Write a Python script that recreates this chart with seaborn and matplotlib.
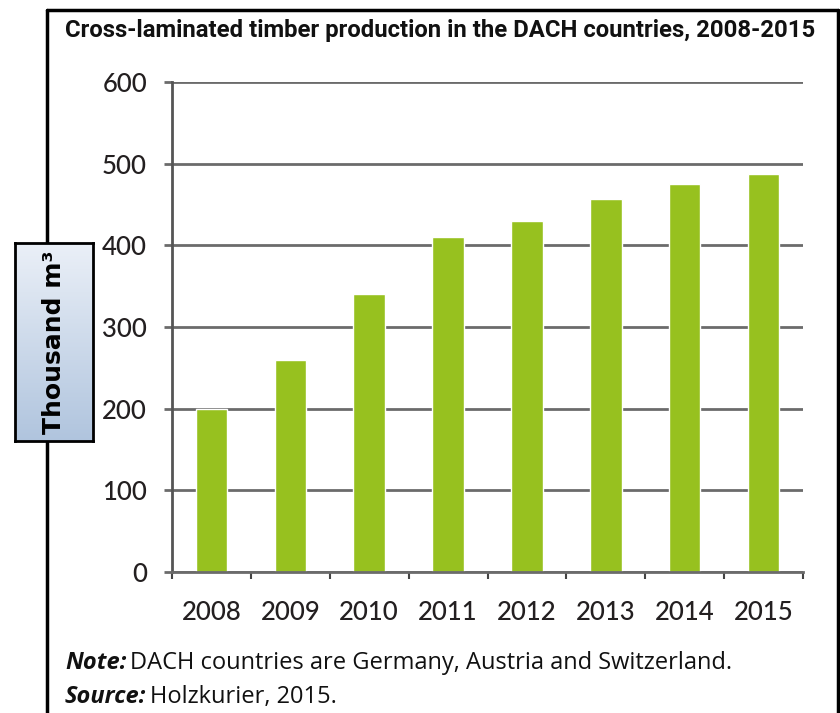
import numpy as np
import matplotlib
matplotlib.use('Agg')
import matplotlib.pyplot as plt
from matplotlib.lines import Line2D
from matplotlib.ticker import FixedLocator
import seaborn as sns

years = ['2008', '2009', '2010', '2011', '2012', '2013', '2014', '2015']
production = [200, 260, 340, 410, 430, 457, 475, 487]
y_ticks = [0, 100, 200, 300, 400, 500, 600]
title = 'Cross-laminated timber production in the DACH countries, 2008-2015'
note_head = 'Note:'
note_body = 'DACH countries are Germany, Austria and Switzerland.'
source_head = 'Source:'
source_body = 'Holzkurier, 2015.'
ylabel = 'Thousand m\u00b3'

sns.set_style('white')
plt.rcParams['font.family'] = ['Lato', 'DejaVu Sans']

W, H = 840, 713
def fx(px):
    return px / W
def fy(py):
    return 1 - py / H

fig = plt.figure(figsize=(8.4, 7.13), dpi=100)
renderer = fig.canvas.get_renderer()
ax = fig.add_axes([fx(172), fy(572), fx(803) - fx(172), fy(82) - fy(572)])

sns.barplot(x=years, y=production, color='#97c11f', width=0.4, saturation=1, ax=ax)

ax.set_ylim(0, 600)
ax.set_xlim(-0.5, 7.5)
ax.set_yticks(y_ticks)
ax.set_xlabel('')
ax.set_ylabel('')
ax.set_axisbelow(True)
ax.yaxis.grid(True, color='#6b6b6b', linewidth=2)
ax.xaxis.grid(False)
sns.despine(ax=ax, top=True, right=True)
ax.spines['left'].set_color('#555555')
ax.spines['left'].set_linewidth(2)
ax.spines['bottom'].set_color('#6b6b6b')
ax.spines['bottom'].set_linewidth(2)

ax.tick_params(axis='y', direction='out', length=6, width=2, color='#6b6b6b',
               pad=12, labelsize=18.5, labelcolor='#231f20', left=True)
ax.tick_params(axis='x', which='major', length=0, pad=20, labelsize=18.5, labelcolor='#231f20')
ax.xaxis.set_minor_locator(FixedLocator(np.arange(-0.5, 8, 1)))
ax.tick_params(axis='x', which='minor', direction='out', length=5, width=1.5,
               color='#444444', bottom=True)
for lab in ax.get_xticklabels() + ax.get_yticklabels():
    lab.set_fontweight('medium')

# frame around the chart
lw = 2.5
fig.add_artist(Line2D([fx(47), fx(47)], [fy(10), 0], color='black', lw=lw))
fig.add_artist(Line2D([fx(47), fx(838)], [fy(10), fy(10)], color='black', lw=lw))
fig.add_artist(Line2D([fx(838), fx(838)], [fy(10), 0], color='black', lw=lw))

# title, sized to fit the same width as the reference
t = fig.text(fx(65), fy(30), title, ha='left', va='center', fontsize=17, fontweight='bold',
             family=['Roboto', 'DejaVu Sans'], color='#111111')
tw = t.get_window_extent(renderer=renderer).width
t.set_fontsize(17 * 752 / tw)

# y label box with gradient
bax = fig.add_axes([fx(15), fy(441), fx(93) - fx(15), fy(243) - fy(441)])
bax.set_zorder(5)
grad = np.linspace(0, 1, 256).reshape(-1, 1)
top_c = np.array([0.92, 0.94, 0.97])
bot_c = np.array([0.69, 0.77, 0.87])
img = top_c + (bot_c - top_c) * grad[:, :, None]
bax.imshow(img, aspect='auto', extent=[0, 1, 0, 1], origin='upper')
bax.set_xticks([])
bax.set_yticks([])
for s in bax.spines.values():
    s.set_visible(True)
    s.set_color('black')
    s.set_linewidth(2)
bax.text(0.5, 0.5, ylabel, rotation=90, ha='center', va='center', fontsize=18,
         fontweight='bold', family=['DejaVu Sans'], color='black', transform=bax.transAxes)

# footnotes with bold italic heads
for head, body, py in [(note_head, note_body, 663), (source_head, source_body, 697)]:
    t = fig.text(fx(65), fy(py), head, ha='left', va='center', fontsize=17,
                 fontweight='bold', fontstyle='italic', family=['Open Sans', 'DejaVu Sans'],
                 color='#111111')
    bb = t.get_window_extent(renderer=renderer)
    fig.text((bb.x1 + 4) / W, fy(py), body, ha='left', va='center', fontsize=17,
             family=['Open Sans', 'DejaVu Sans'], color='#111111')

plt.savefig('out.png', dpi=100)
